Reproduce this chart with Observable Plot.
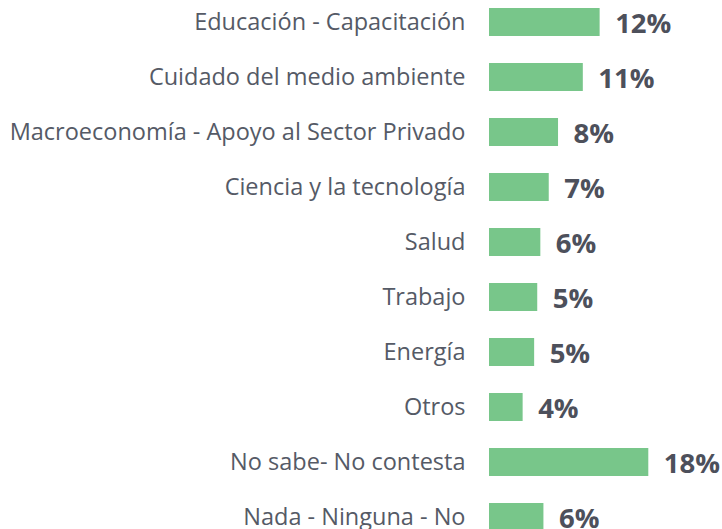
<!DOCTYPE html>
<html>
<head>
<meta charset="utf-8">
<script src="https://cdn.jsdelivr.net/npm/d3@7"></script>
<script src="https://cdn.jsdelivr.net/npm/@observablehq/plot@0.6"></script>
<style>
  html, body { margin: 0; padding: 0; background: #fff; overflow: hidden; }
  #chart svg { display: block; }
</style>
</head>
<body>
<div id="chart"></div>
<script>
const categories = [
  "Educación - Capacitación",
  "Cuidado del medio ambiente",
  "Macroeconomía - Apoyo al Sector Privado",
  "Ciencia y la tecnología",
  "Salud",
  "Trabajo",
  "Energía",
  "Otros",
  "No sabe- No contesta",
  "Nada - Ninguna - No"
];
const values = [12.5, 10.6, 7.8, 6.75, 5.8, 5.45, 5.1, 3.8, 18.0, 6.15];
const valueLabels = ["12%", "11%", "8%", "7%", "6%", "5%", "5%", "4%", "18%", "6%"];

const data = categories.map((c, i) => ({category: c, value: values[i], label: valueLabels[i]}));

const chart = Plot.plot({
  width: 722,
  height: 529,
  marginLeft: 489,
  marginRight: 0,
  marginTop: 0,
  marginBottom: 0,
  style: {fontFamily: "'Open Sans', sans-serif", background: "#fff"},
  x: {domain: [0, 18], range: [489, 648.3], axis: null},
  y: {domain: categories, range: [-5.5, 544.5], paddingInner: 0.5, paddingOuter: 0.25, label: null},
  marks: [
    Plot.barX(data, {x: "value", y: "category", fill: "#78c68a", inset: 0}),
    Plot.text(data, {
      x: "value", y: "category", text: "label",
      textAnchor: "start", dx: 15, dy: 2,
      fontSize: 27.5, fontWeight: "bold", fill: "#4d505b"
    }),
    Plot.axisY({
      tickSize: 0, tickPadding: 24, fontSize: 23.5, fill: "#555a66", label: null
    })
  ]
});
document.getElementById("chart").appendChild(chart);
</script>
</body>
</html>
